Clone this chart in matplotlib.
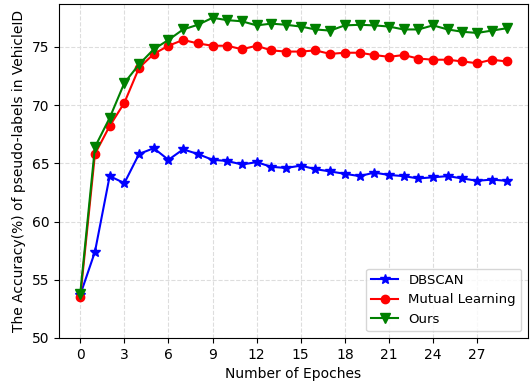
import numpy as np
import matplotlib
matplotlib.use("Agg")
import matplotlib.pyplot as plt

epochs = np.arange(30)

dbscan = [53.7, 57.4, 63.9, 63.3, 65.8, 66.3, 65.3, 66.2, 65.8, 65.3,
          65.2, 64.9, 65.1, 64.7, 64.6, 64.8, 64.5, 64.3, 64.1, 63.9,
          64.2, 64.0, 63.9, 63.7, 63.8, 63.9, 63.7, 63.5, 63.6, 63.5]
mutual = [53.5, 65.8, 68.2, 70.2, 73.2, 74.4, 75.1, 75.6, 75.3, 75.1,
          75.1, 74.8, 75.1, 74.7, 74.6, 74.6, 74.7, 74.4, 74.5, 74.5,
          74.3, 74.15, 74.3, 74.0, 73.9, 73.9, 73.75, 73.6, 73.9, 73.75]
ours = [53.8, 66.4, 68.9, 71.9, 73.5, 74.8, 75.6, 76.5, 76.9, 77.5,
        77.3, 77.2, 76.85, 77.0, 76.9, 76.75, 76.5, 76.4, 76.85, 76.9,
        76.85, 76.75, 76.5, 76.5, 76.85, 76.5, 76.3, 76.2, 76.4, 76.6]

fig = plt.figure(figsize=(5.31, 3.84), dpi=100)
ax = fig.add_subplot(1, 1, 1)
fig.subplots_adjust(left=0.111, right=0.994, top=0.99, bottom=0.12)

ax.plot(epochs, dbscan, color="blue", marker="*", markersize=7, linewidth=1.5, label="DBSCAN")
ax.plot(epochs, mutual, color="red", marker="o", markersize=6, linewidth=1.5, label="Mutual Learning")
ax.plot(epochs, ours, color="green", marker="v", markersize=7, linewidth=1.5, label="Ours")

ax.set_ylim(bottom=50)
ax.set_xticks(np.arange(0, 30, 3))
ax.grid(True, linestyle="--", color="#dddddd", linewidth=0.8)
ax.set_xlabel("Number of Epoches")
ax.set_ylabel("The Accuracy(%) of pseudo-labels in VehicleID")
ax.legend(loc="lower right", fontsize=9.5)

fig.savefig("out.png", dpi=100)
